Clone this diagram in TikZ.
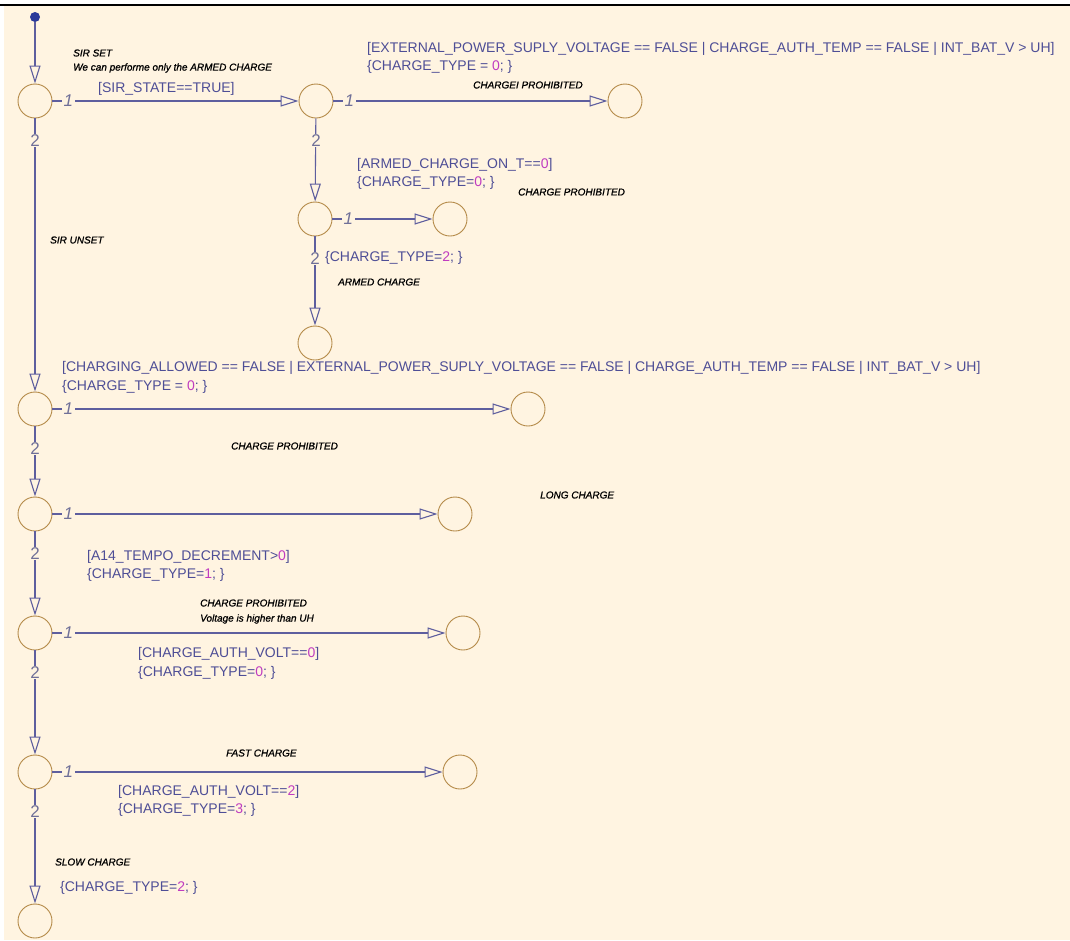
\documentclass[tikz,border=0pt]{standalone}
\usepackage{fontspec}
\setmainfont{Liberation Sans}
\newfontfamily\notefont[ItalicFeatures={FakeBold=1}]{Liberation Sans}
\usetikzlibrary{arrows.meta,calc}
\definecolor{bg}{HTML}{FFF4E1}
\definecolor{wire}{HTML}{5E5E9E}
\definecolor{ring}{HTML}{B48A48}
\definecolor{guard}{HTML}{4E4E96}
\definecolor{numc}{HTML}{C03CC0}
\definecolor{tag}{HTML}{707098}
\definecolor{dotc}{HTML}{2B3A9A}
\newcommand\nv[1]{\textcolor{numc}{#1}}
\begin{document}
\begin{tikzpicture}[x=1pt,y=-1pt,
  state/.style={circle,draw=ring,line width=0.9pt,minimum size=34pt,inner sep=0pt},
  trans/.style={draw=wire,line width=1.1pt,-{Triangle[open,length=18pt,width=11pt]}},
  guardtxt/.style={anchor=west,text=guard,font=\fontsize{14}{16}\selectfont,inner sep=0pt},
  note/.style={anchor=west,text=black,font=\fontsize{10}{11}\notefont\itshape,inner sep=0pt},
  onetag/.style={text=tag,fill=bg,font=\fontsize{17}{17}\selectfont\itshape,inner sep=1.5pt},
  twotag/.style={text=tag,fill=bg,font=\fontsize{17}{17}\selectfont,inner sep=1pt},
]
% canvas
\useasboundingbox (0,0) rectangle (1070,940);
\fill[white] (0,0) rectangle (1070,940);
\fill[bg] (4,6) rectangle (1070,940);
\draw[black,line width=2pt] (0,5) -- (1070,5);

% states
\node[circle,fill=dotc,minimum size=10pt,inner sep=0pt] (init) at (35,17) {};
\node[state] (a1) at (35,101) {};
\node[state] (b1) at (316,101) {};
\node[state] (c1) at (625,101) {};
\node[state] (b2) at (315,219) {};
\node[state] (d2) at (450,219) {};
\node[state] (b3) at (315,343) {};
\node[state] (a2) at (35,409) {};
\node[state] (t2) at (528,409) {};
\node[state] (a3) at (35,514) {};
\node[state] (t3) at (455,514) {};
\node[state] (a4) at (35,633) {};
\node[state] (t4) at (463,633) {};
\node[state] (a5) at (35,772) {};
\node[state] (t5) at (460,772) {};
\node[state] (a6) at (35,921) {};

% transitions
\draw[trans] (init) -- (a1);
\foreach \s/\t in {a1/b1,b1/c1,b2/d2,a2/t2,a3/t3,a4/t4,a5/t5}{
  \draw[trans] (\s) -- (\t);
  \node[onetag] (one-\s) at ($(\s.east)+(16,0)$) {1};
}
\foreach \s/\t in {b1/b2,b2/b3,a1/a2,a2/a3,a3/a4,a4/a5,a5/a6}{
  \draw[trans] (\s) -- (\t);
  \node[twotag] (two-\s) at ($(\s.south)+(0,22)$) {2};
}

% labels of the upper branch
\node[note] (n1) at (73,53) {SIR SET};
\node[note] (n2) at (73,68) {We can performe only the ARMED CHARGE};
\node[guardtxt] (g1) at (98,89) {[SIR\_STATE==TRUE]};
\node[guardtxt] (g2) at (367,49) {[EXTERNAL\_POWER\_SUPLY\_VOLTAGE == FALSE | CHARGE\_AUTH\_TEMP == FALSE | INT\_BAT\_V > UH]};
\node[guardtxt] (g3) at (367,67) {\{CHARGE\_TYPE = \nv{0}; \}};
\node[note] (n3) at (473,85) {CHARGEI PROHIBITED};
\node[guardtxt] (g4) at (357,165) {[ARMED\_CHARGE\_ON\_T==\nv{0}]};
\node[guardtxt] (g5) at (357,183) {\{CHARGE\_TYPE=\nv{0}; \}};
\node[note] (n4) at (518,192) {CHARGE PROHIBITED};
\node[guardtxt] (g6) at (325,258) {\{CHARGE\_TYPE=\nv{2}; \}};
\node[note] (n5) at (338,282) {ARMED CHARGE};
\node[note] (n6) at (50,240) {SIR UNSET};

% labels of the main column
\node[guardtxt] (g7) at (62,368) {[CHARGING\_ALLOWED == FALSE | EXTERNAL\_POWER\_SUPLY\_VOLTAGE == FALSE | CHARGE\_AUTH\_TEMP == FALSE | INT\_BAT\_V > UH]};
\node[guardtxt] (g8) at (62,387) {\{CHARGE\_TYPE = \nv{0}; \}};
\node[note] (n7) at (231,446) {CHARGE PROHIBITED};
\node[note] (n8) at (540,495) {LONG CHARGE};
\node[guardtxt] (g9) at (87,557) {[A14\_TEMPO\_DECREMENT>\nv{0}]};
\node[guardtxt] (g10) at (87,575) {\{CHARGE\_TYPE=\nv{1}; \}};
\node[note] (n9) at (200,603) {CHARGE PROHIBITED};
\node[note] (n10) at (200,619) {Voltage is higher than UH};
\node[guardtxt] (g11) at (138,654) {[CHARGE\_AUTH\_VOLT==\nv{0}]};
\node[guardtxt] (g12) at (138,673) {\{CHARGE\_TYPE=\nv{0}; \}};
\node[note] (n11) at (226,753) {FAST CHARGE};
\node[guardtxt] (g13) at (118,792) {[CHARGE\_AUTH\_VOLT==\nv{2}]};
\node[guardtxt] (g14) at (118,810) {\{CHARGE\_TYPE=\nv{3}; \}};
\node[note] (n12) at (55,862) {SLOW CHARGE};
\node[guardtxt] (g15) at (60,888) {\{CHARGE\_TYPE=\nv{2}; \}};
\end{tikzpicture}
\end{document}
